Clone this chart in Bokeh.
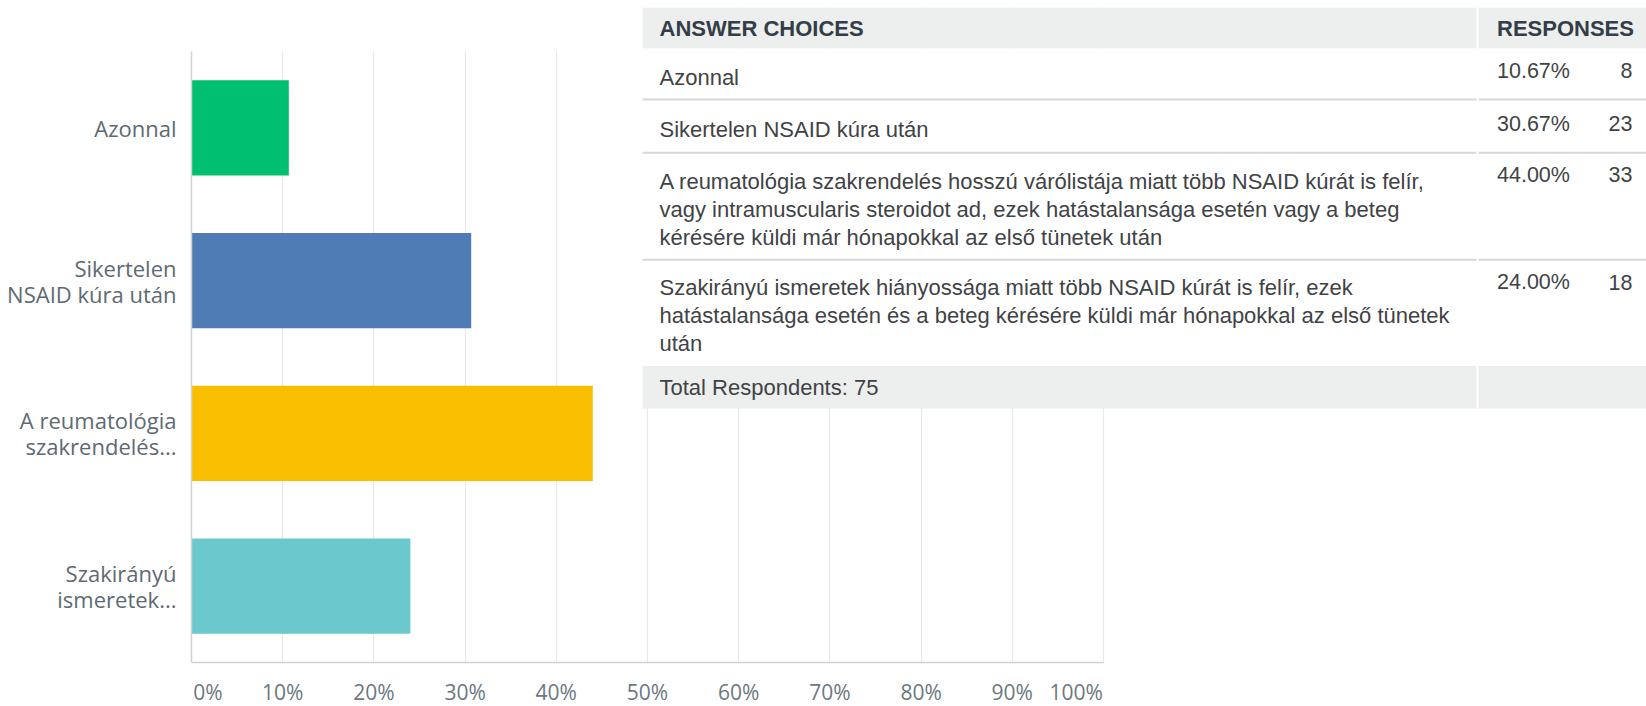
from bokeh.plotting import figure
from bokeh.models import ColumnDataSource, Range1d, FixedTicker, Label, BoxAnnotation
from bokeh.embed import file_html
from bokeh.resources import INLINE

# ---------------- data ----------------
categories = ["Azonnal", "Sikertelen\nNSAID kúra után",
              "A reumatológia\nszakrendelés...", "Szakirányú\nismeretek..."]
percents = [10.67, 30.67, 44.00, 24.00]
counts = [8, 23, 33, 18]
colors = ["#00BF6F", "#507CB6", "#F9BE00", "#6BC8CD"]
x_ticks = [0, 10, 20, 30, 40, 50, 60, 70, 80, 90, 100]
tick_labels = ["0%", "10%", "20%", "30%", "40%", "50%", "60%", "70%", "80%", "90%", "100%"]
header = ["ANSWER CHOICES", "RESPONSES"]
choice_lines = [
    ["Azonnal"],
    ["Sikertelen NSAID kúra után"],
    ["A reumatológia szakrendelés hosszú várólistája miatt több NSAID kúrát is felír,",
     "vagy intramuscularis steroidot ad, ezek hatástalansága esetén vagy a beteg",
     "kérésére küldi már hónapokkal az első tünetek után"],
    ["Szakirányú ismeretek hiányossága miatt több NSAID kúrát is felír, ezek",
     "hatástalansága esetén és a beteg kérésére küldi már hónapokkal az első tünetek",
     "után"],
]
total_label = "Total Respondents: 75"

# ---------------- layout ----------------
W, H = 1646, 706
PL, PR, PT, PB = 191, 1103, 51, 662      # plot area of the bar chart
TOP = 7                                  # top of the drawing frame (table header)
n = len(categories)
band = (PB - PT) / n
ypos = list(range(n))[::-1]              # first category on top

x_end = x_ticks[-1] * (W - PL) / (PR - PL)
y_top = (n - 0.5) + (PT - TOP) / band
y_bottom = -0.5 - (H - PB) / band

p = figure(width=W, height=H, x_range=Range1d(0, x_end),
           y_range=Range1d(y_bottom, y_top),
           output_backend="svg", toolbar_location=None,
           min_border_left=PL, min_border_right=0,
           min_border_top=TOP, min_border_bottom=0)
p.outline_line_color = None
p.background_fill_color = "white"

src = ColumnDataSource(dict(y=ypos, right=percents, color=colors))
p.hbar(y="y", left=0, right="right", height=0.625, source=src,
       fill_color="color", line_color=None)

# x axis, drawn at the bottom edge of the bars' area
NB = "\u00a0"
p.xaxis.fixed_location = -0.5
p.xaxis.ticker = FixedTicker(ticks=x_ticks)
ov = {t: l for t, l in zip(x_ticks, tick_labels)}
ov[x_ticks[0]] = NB * 6 + tick_labels[0]       # justified like the original
ov[x_ticks[-1]] = tick_labels[-1] + NB * 10
p.xaxis.major_label_overrides = ov
p.xaxis.bounds = (x_ticks[0], x_ticks[-1])
p.xaxis.major_tick_line_color = None
p.xaxis.major_tick_out = 0
p.xaxis.major_tick_in = 0
p.xaxis.minor_tick_line_color = None
p.xaxis.axis_line_color = "#D2D2D2"
p.xaxis.axis_line_width = 1.5
p.xaxis.major_label_text_font = "Open Sans"
p.xaxis.major_label_text_font_size = "21px"
p.xaxis.major_label_text_color = "#6B787F"
p.xaxis.major_label_standoff = 15

# y axis
p.yaxis.ticker = FixedTicker(ticks=ypos)
p.yaxis.major_label_overrides = {y: c for y, c in zip(ypos, categories)}
p.yaxis.bounds = (-0.5, n - 0.5)
p.yaxis.major_tick_line_color = None
p.yaxis.major_tick_out = 0
p.yaxis.major_tick_in = 0
p.yaxis.minor_tick_line_color = None
p.yaxis.axis_line_color = "#D2D2D2"
p.yaxis.axis_line_width = 1.5
p.yaxis.major_label_text_font = "Open Sans"
p.yaxis.major_label_text_font_size = "22px"
p.yaxis.major_label_text_line_height = 0.87
p.yaxis.major_label_text_color = "#5E6A72"
p.yaxis.major_label_standoff = 15

p.xgrid.ticker = FixedTicker(ticks=x_ticks)
p.xgrid.grid_line_color = "#E9E9E9"
p.xgrid.grid_line_width = 1.2
p.ygrid.grid_line_color = None

# ---------------- table (screen units, frame relative) ----------------
def sx(x):
    return x - PL

def sy(y):
    return H - y

def box(l, t, r, b, color, level="annotation"):
    p.add_layout(BoxAnnotation(left=sx(l), right=sx(r), top=sy(t), bottom=sy(b),
                               left_units="screen", right_units="screen",
                               top_units="screen", bottom_units="screen",
                               fill_color=color, fill_alpha=1.0, line_color=None,
                               level=level))

def txt(x, y, s, align="left", bold=False, color="#3F4346", size="22px"):
    p.add_layout(Label(x=sx(x), y=sy(y), x_units="screen", y_units="screen", text=s,
                       text_align=align, text_baseline="middle",
                       text_font="Liberation Sans", text_font_size=size,
                       text_font_style="bold" if bold else "normal",
                       text_color=color, level="overlay"))

# keep grid lines inside the bar-chart area
box(PL - 5, TOP - 5, 645, PT, "white", level="underlay")
box(PL - 5, PB + 1, PR + 5, H + 5, "white", level="underlay")

TL, TR, DV = 642, W, 1477
GRAY = "#EDEEEE"
SEP = "#D6D8D9"
box(TL, TOP, TR, 48, GRAY)
box(DV - 1, TOP, DV + 1, 48, "white")
box(TL, 48, TR, 365.5, "white")
for ysep in [99, 152.3, 259.3]:
    box(TL, ysep - 1, DV - 1, ysep + 1, SEP)
    box(DV + 1, ysep - 1, TR, ysep + 1, SEP)
box(TL, 365.5, TR, 408, GRAY)
box(DV - 1, 365.5, DV + 1, 408, "white")

# vertical centres of the text lines (first line of each row) and line step
row_text_y = [77.0, 129.0, 180.8, 286.5]
row_pct_y = [70.3, 123.3, 174.0, 281.7]
LINE = 28.3

txt(659, 27.5, header[0], bold=True, color="#333E48")
txt(1496.5, 27.5, header[1], bold=True, color="#333E48")
for i in range(n):
    for j, line in enumerate(choice_lines[i]):
        txt(659, row_text_y[i] + LINE * j, line)
    txt(1496.5, row_pct_y[i], f"{percents[i]:.2f}%", size="21.5px")
    txt(1632, row_pct_y[i], str(counts[i]), align="right", size="21.5px")
txt(659, 387, total_label)

open("out.html", "w").write(file_html(p, INLINE))
